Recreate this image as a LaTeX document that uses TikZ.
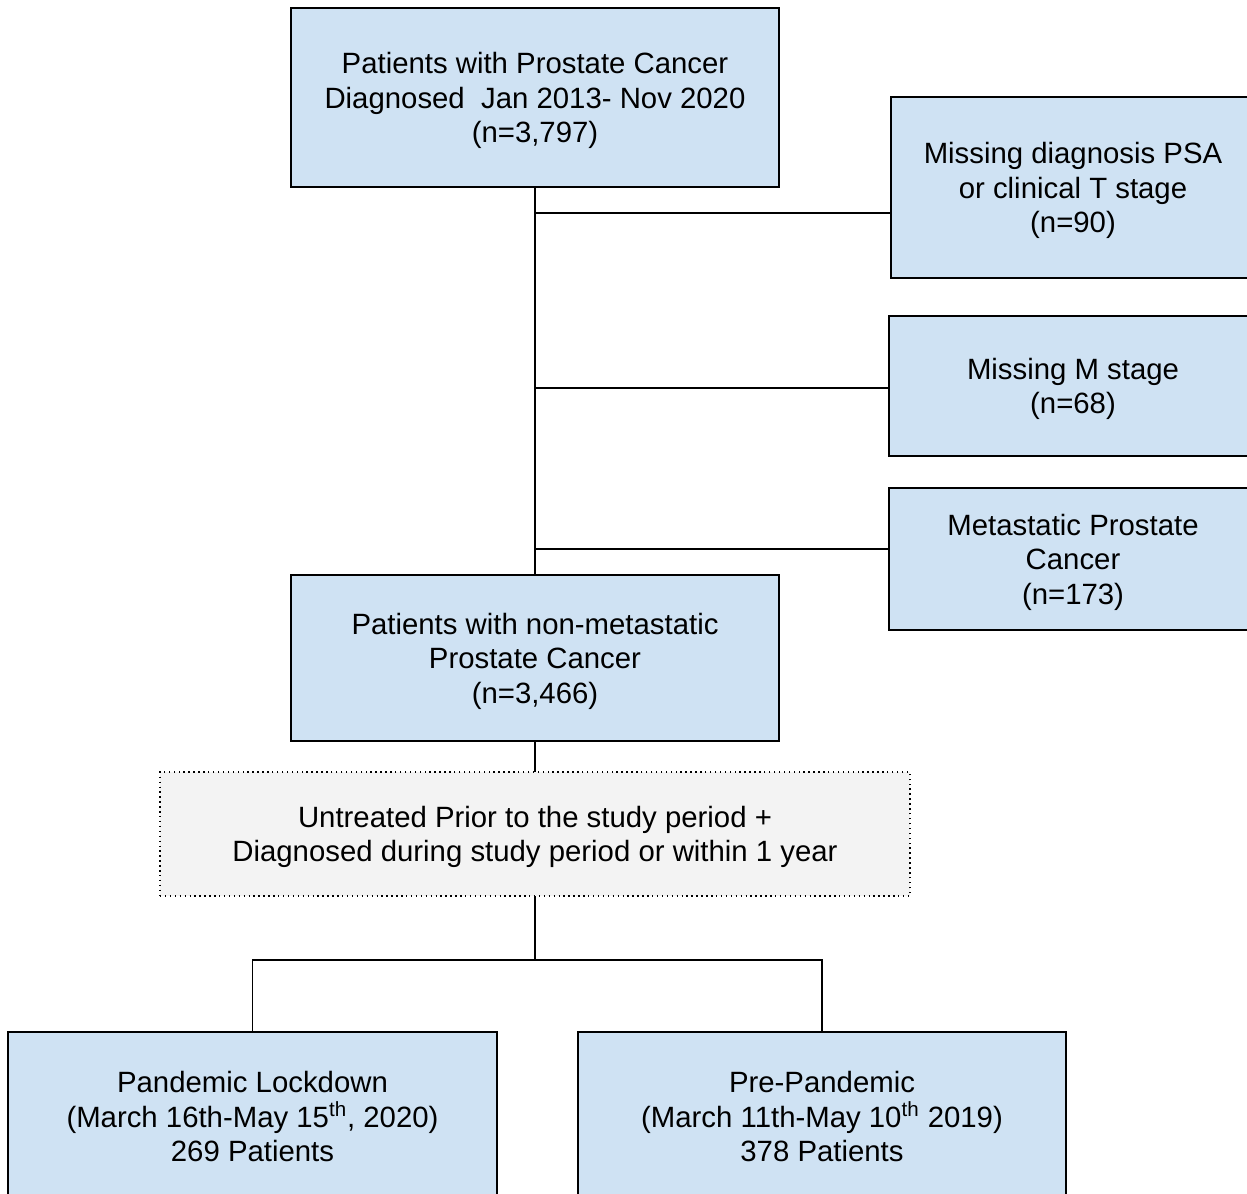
\documentclass[tikz,border=0pt]{standalone}
\usepackage{fontspec}
\setmainfont{Liberation Sans}
\definecolor{boxblue}{HTML}{CFE2F3}
\definecolor{boxgray}{HTML}{F3F3F3}
\begin{document}
\begin{tikzpicture}[line width=0.8pt, main node/.style={shape=rectangle, draw, fill=boxblue, align=center, inner sep=0pt, outer sep=0pt, text depth=0pt, minimum width=9.76cm, font=\fontsize{16.7pt}{19.6pt}\selectfont}, side node/.style = {main node, minimum width=7.36cm}, filter node/.style = {main node, fill=boxgray, dotted, minimum width=15cm}]
\clip (0,0) rectangle (24.94,-23.88);
\node[main node, minimum height=3.58cm] (All) at (10.70,-1.95) {Patients with Prostate Cancer\\Diagnosed\ \ Jan 2013- Nov 2020\\(n=3,797)};
\node[side node, minimum width=7.28cm, minimum height=3.62cm] (PSA) at (21.46,-3.75) {Missing diagnosis PSA\\or clinical T stage\\(n=90)};
\node[side node, minimum height=2.80cm] (Mstage) at (21.46,-7.72) {Missing M stage\\(n=68)};
\node[side node, minimum height=2.84cm] (Meta) at (21.46,-11.18) {Metastatic Prostate\\Cancer\\(n=173)};
\node[main node, minimum height=3.32cm] (NonMeta) at (10.70,-13.16) {Patients with non-metastatic\\Prostate Cancer\\(n=3,466)};
\node[filter node, minimum height=2.48cm] (Untreated) at (10.70,-16.68) {Untreated Prior to the study period +\\Diagnosed during study period or within 1 year};
\node[main node, minimum width=9.78cm, minimum height=3.38cm] (Lockdown) at (5.05,-22.33) {Pandemic Lockdown\\(March 16th-May 15\textsuperscript{th}, 2020)\\269 Patients};
\node[main node, minimum height=3.38cm] (PrePand) at (16.44,-22.33) {Pre-Pandemic\\(March 11th-May 10\textsuperscript{th} 2019)\\378 Patients};
\coordinate (x1) at (10.70,-4.26);
\coordinate (x2) at (10.70,-7.76);
\coordinate (x3) at (10.70,-10.98);
\coordinate (split) at (10.70,-19.20);
\draw (All.south) -- (NonMeta.north);
\draw (x1) -- (x1 -| PSA.west);
\draw (x2) -- (x2 -| Mstage.west);
\draw (x3) -- (x3 -| Meta.west);
\draw (NonMeta.south) -- (Untreated.north);
\draw (Untreated.south) -- (split);
\draw (Lockdown.north) |- (split) -| (PrePand.north);
\end{tikzpicture}
\end{document}
